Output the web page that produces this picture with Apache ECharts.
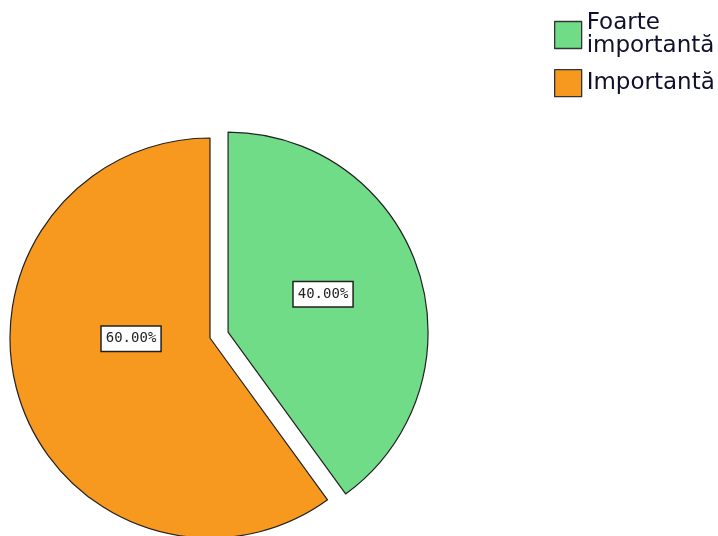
<!DOCTYPE html>
<html>
<head>
<meta charset="utf-8">
<script src="https://cdn.jsdelivr.net/npm/echarts@6/dist/echarts.min.js"></script>
<style>
  html, body { margin: 0; padding: 0; background: #ffffff; }
  #chart { width: 718px; height: 536px; }
</style>
</head>
<body>
<div id="chart"></div>
<script>
// Categories and their shares (percent)
const categories = ['Foarte importantă', 'Importantă'];
const values = [40, 60];
const colors = ['#70DC87', '#F7991E'];
// per-slice label nudges
const labelOffsets = [[-3, -6], [19, -31]];

const chart = echarts.init(document.getElementById('chart'), null, { renderer: 'canvas' });

const data = categories.map((name, i) => ({
  name: name,
  value: values[i],
  selected: i === 0,
  itemStyle: { color: colors[i] },
  label: { offset: labelOffsets[i] },
  select: { label: { offset: labelOffsets[i] } }
}));

chart.setOption({
  backgroundColor: '#ffffff',
  animation: false,
  legend: {
    orient: 'vertical',
    left: 549,
    top: 7,
    itemWidth: 27,
    itemHeight: 27,
    itemGap: 11,
    selectedMode: false,
    icon: 'rect',
    data: categories,
    itemStyle: { borderColor: '#333333', borderWidth: 1.3 },
    formatter: function (name) {
      return name === 'Foarte importantă' ? 'Foarte\nimportantă' : name;
    },
    textStyle: {
      fontFamily: 'DejaVu Sans',
      fontSize: 23,
      lineHeight: 23,
      color: '#10102e'
    }
  },
  series: [{
    type: 'pie',
    center: [210, 338],
    radius: 200,
    startAngle: 90,
    clockwise: true,
    selectedMode: 'single',
    selectedOffset: 19,
    silent: true,
    emphasis: { disabled: true },
    itemStyle: { borderColor: '#222222', borderWidth: 1.2 },
    label: {
      show: true,
      position: 'inside',
      formatter: function (p) { return p.percent.toFixed(2) + '%'; },
      fontFamily: 'DejaVu Sans Mono',
      fontSize: 14,
      lineHeight: 15,
      color: '#222222',
      backgroundColor: '#ffffff',
      borderColor: '#222222',
      borderWidth: 1.5,
      padding: [5, 4, 4, 4]
    },
    labelLine: { show: false },
    data: data
  }]
});
</script>
</body>
</html>
